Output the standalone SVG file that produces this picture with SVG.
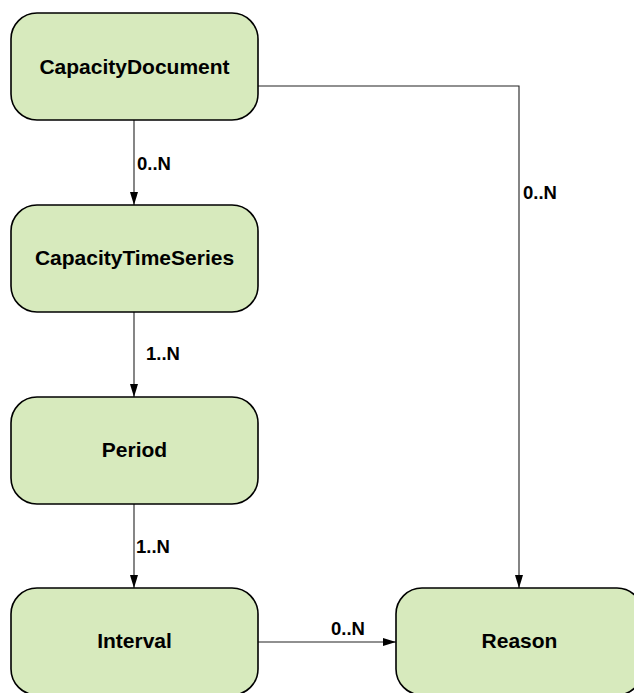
<svg xmlns="http://www.w3.org/2000/svg" width="634" height="693" viewBox="0 0 634 693">
<defs>
<style>
.node rect{fill:#d7eabd;stroke:#000;stroke-width:1.6}
.node text{font-family:"Liberation Sans",Arial,sans-serif;font-weight:bold;font-size:21px;text-anchor:middle;fill:#000}
.conn path{fill:none;stroke:#222;stroke-width:1.1}
.lbl{font-family:"Liberation Sans",Arial,sans-serif;font-weight:bold;font-size:18.5px;fill:#000}
</style>
<marker id="arr" markerWidth="13" markerHeight="21" refX="21" refY="6.5" viewBox="0 0 21 13" orient="auto" markerUnits="userSpaceOnUse">
<path d="M0,0 L21,6.5 L0,13 Z" fill="#000"/>
</marker>
</defs>
<rect width="634" height="693" fill="#fff"/>
<g class="conn">
<path d="M134,120 V205" marker-end="url(#arr)"/>
<path d="M134,312 V397" marker-end="url(#arr)"/>
<path d="M134,504 V588" marker-end="url(#arr)"/>
<path d="M258,86 H519 V588" marker-end="url(#arr)"/>
<path d="M258,642 H396" marker-end="url(#arr)"/>
<text class="lbl" x="137" y="170">0..N</text>
<text class="lbl" x="146" y="360">1..N</text>
<text class="lbl" x="136" y="553">1..N</text>
<text class="lbl" x="523" y="199">0..N</text>
<text class="lbl" x="331" y="635">0..N</text>
</g>
<g id="CapacityDocument" class="node"><rect x="11" y="13" width="247" height="107" rx="26"/><text x="134.5" y="74">CapacityDocument</text></g>
<g id="CapacityTimeSeries" class="node"><rect x="11" y="205" width="247" height="107" rx="26"/><text x="134.5" y="265">CapacityTimeSeries</text></g>
<g id="Period" class="node"><rect x="11" y="397" width="247" height="107" rx="26"/><text x="134.5" y="457">Period</text></g>
<g id="Interval" class="node"><rect x="11" y="588" width="247" height="107" rx="26"/><text x="134.5" y="648">Interval</text></g>
<g id="Reason" class="node"><rect x="396" y="588" width="247" height="107" rx="26"/><text x="519.5" y="648">Reason</text></g>
</svg>
